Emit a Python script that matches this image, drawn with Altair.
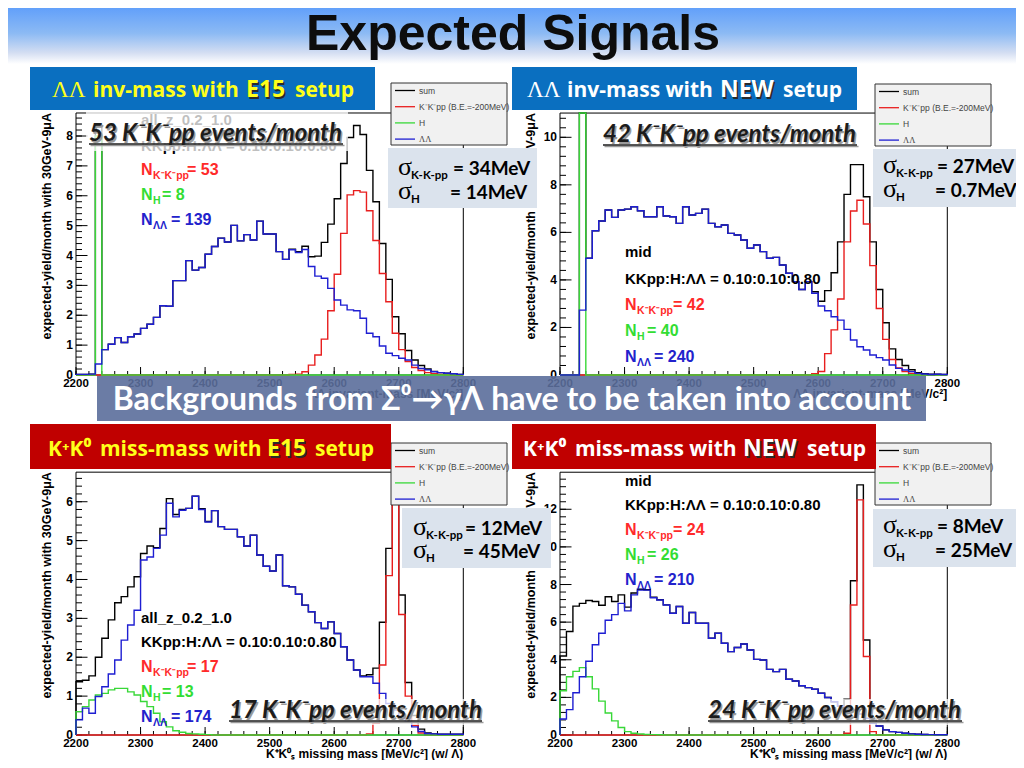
import altair as alt
import pandas as pd

OX, OY = 8, 8          # page margin
W, H = 1008, 752       # drawing area

ROOT_FONT = "Liberation Sans, Arial, sans-serif"
HEAD_FONT = "Open Sans, sans-serif"
LABEL_FONT = "Lato, sans-serif"
SERIF = "Liberation Serif, DejaVu Serif, serif"

C_SUM, C_KK, C_H, C_LL = "#000000", "#e81e1e", "#38d838", "#1e1ed2"
T_KK, T_H, T_LL = "#ff2a2a", "#33dd33", "#2222cc"

# ---------------- data (10 MeV bins, 2200 ... 2790) ----------------
X_FIRST, X_LAST, BIN_WIDTH = 2200, 2800, 10
X_MAJOR = [2200, 2300, 2400, 2500, 2600, 2700, 2800]
X_MINOR = [2200, 2220, 2240, 2260, 2280, 2300, 2320, 2340, 2360, 2380, 2400,
           2420, 2440, 2460, 2480, 2500, 2520, 2540, 2560, 2580, 2600, 2620,
           2640, 2660, 2680, 2700, 2720, 2740, 2760, 2780, 2800]

# panel 1 : LL inv-mass, E15
P1_SUM = [0.02, 0.02, 0.03, 8.37, 0.85, 1.03, 1.25, 1.09, 1.28, 1.37,
          1.56, 1.70, 1.93, 2.32, 2.30, 3.16, 3.16, 3.83, 3.51, 3.60,
          4.04, 4.30, 4.58, 4.45, 5.01, 4.49, 4.70, 4.52, 5.15, 4.72,
          4.72, 4.13, 3.87, 4.21, 4.13, 4.31, 3.96, 3.98, 4.44, 5.05,
          5.90, 7.08, 7.95, 8.35, 8.05, 6.85, 5.80, 4.40, 3.20, 1.95,
          1.38, 0.82, 0.50, 0.32, 0.20, 0.12, 0.08, 0.06, 0.04, 0.02]
P1_KK = [0, 0, 0, 0, 0, 0, 0, 0, 0, 0,
         0, 0, 0, 0, 0, 0, 0, 0, 0, 0,
         0, 0, 0, 0, 0, 0, 0, 0, 0, 0,
         0, 0, 0, 0.02, 0.03, 0.11, 0.33, 0.67, 1.20, 2.15,
         3.37, 4.74, 6.03, 6.17, 6.12, 5.50, 4.50, 3.40, 2.45, 1.40,
         0.85, 0.45, 0.25, 0.15, 0.08, 0.04, 0.02, 0.01, 0, 0]
P1_H = [0, 0, 0, 8.0, 0, 0, 0, 0, 0, 0,
        0, 0, 0, 0, 0, 0, 0, 0, 0, 0,
        0, 0, 0, 0, 0, 0, 0, 0, 0, 0,
        0, 0, 0, 0, 0, 0, 0, 0, 0, 0,
        0, 0, 0, 0, 0, 0, 0, 0, 0, 0,
        0, 0, 0, 0, 0, 0, 0, 0, 0, 0]
P1_LL = [0.02, 0.02, 0.03, 0.37, 0.85, 1.03, 1.25, 1.09, 1.28, 1.37,
         1.56, 1.70, 1.93, 2.32, 2.30, 3.16, 3.16, 3.83, 3.51, 3.60,
         4.04, 4.30, 4.58, 4.45, 5.01, 4.49, 4.70, 4.52, 5.15, 4.72,
         4.72, 4.13, 3.87, 4.19, 4.10, 4.20, 3.63, 3.31, 3.24, 2.90,
         2.51, 2.34, 2.18, 2.15, 1.90, 1.40, 1.28, 0.97, 0.73, 0.65,
         0.56, 0.50, 0.33, 0.22, 0.17, 0.11, 0.08, 0.06, 0.04, 0.02]

# panel 2 : LL inv-mass, NEW
P2_SUM = [0, 0, 0, 42.7, 4.91, 6.07, 6.48, 6.94, 6.63, 6.94,
          6.98, 7.08, 6.91, 6.66, 6.66, 7.08, 6.69, 6.66, 6.38, 7.08,
          6.73, 6.80, 6.98, 6.38, 6.24, 6.31, 5.96, 5.89, 5.68, 5.33,
          5.47, 5.19, 4.91, 4.95, 4.63, 4.28, 3.93, 3.60, 3.93, 3.50,
          3.10, 3.55, 4.30, 5.60, 7.60, 8.85, 8.85, 7.50, 5.60, 3.60,
          2.20, 1.10, 0.65, 0.40, 0.22, 0.10, 0.05, 0.03, 0.03, 0.02]
P2_KK = [0, 0, 0, 0, 0, 0, 0, 0, 0, 0,
         0, 0, 0, 0, 0, 0, 0, 0, 0, 0,
         0, 0, 0, 0, 0, 0, 0, 0, 0, 0,
         0, 0, 0, 0, 0, 0, 0, 0, 0, 0.05,
         0.15, 0.90, 1.90, 3.20, 5.60, 6.90, 7.35, 6.35, 4.60, 2.80,
         1.50, 0.65, 0.30, 0.14, 0.07, 0.03, 0, 0, 0, 0]
P2_H = [0, 0, 0, 40.0, 0, 0, 0, 0, 0, 0,
        0, 0, 0, 0, 0, 0, 0, 0, 0, 0,
        0, 0, 0, 0, 0, 0, 0, 0, 0, 0,
        0, 0, 0, 0, 0, 0, 0, 0, 0, 0,
        0, 0, 0, 0, 0, 0, 0, 0, 0, 0,
        0, 0, 0, 0, 0, 0, 0, 0, 0, 0]
P2_LL = [0, 0, 0, 2.73, 4.91, 6.07, 6.48, 6.94, 6.63, 6.94,
         6.98, 7.08, 6.91, 6.66, 6.66, 7.08, 6.69, 6.66, 6.38, 7.08,
         6.73, 6.80, 6.98, 6.38, 6.24, 6.31, 5.96, 5.89, 5.68, 5.33,
         5.47, 5.19, 4.91, 4.95, 4.63, 4.28, 3.93, 3.60, 3.93, 3.44,
         2.90, 2.70, 2.45, 2.31, 1.92, 1.47, 1.19, 1.05, 0.84, 0.73,
         0.63, 0.42, 0.28, 0.21, 0.14, 0.07, 0.04, 0.02, 0.03, 0.02]

# panel 3 : K+K0 missing mass, E15
P3_SUM = [1.37, 1.41, 1.52, 2.00, 2.49, 2.96, 3.40, 3.56, 3.81, 4.07,
          4.67, 4.86, 4.82, 5.31, 6.08, 5.67, 5.80, 5.83, 6.14, 5.82,
          5.49, 5.77, 5.36, 5.29, 5.29, 5.10, 4.86, 5.14, 4.63, 4.34,
          4.22, 4.63, 3.84, 3.81, 3.62, 3.34, 3.17, 2.89, 2.74, 2.91,
          2.61, 2.27, 1.93, 1.67, 1.52, 1.55, 1.72, 2.90, 4.80, 7.20,
          3.60, 1.35, 0.50, 0.15, 0.05, 0.03, 0.02, 0.02, 0.02, 0.02]
P3_KK = [0, 0, 0, 0, 0, 0, 0, 0, 0, 0,
         0, 0, 0, 0, 0, 0, 0, 0, 0, 0,
         0, 0, 0, 0, 0, 0, 0, 0, 0, 0,
         0, 0, 0, 0, 0, 0, 0, 0, 0, 0,
         0, 0, 0, 0, 0, 0.03, 0.30, 1.80, 4.10, 6.60,
         3.10, 1.00, 0.25, 0.05, 0, 0, 0, 0, 0, 0]
P3_H = [0.60, 0.73, 0.90, 1.03, 1.07, 1.16, 1.20, 1.20, 1.11, 1.03,
        0.86, 0.73, 0.56, 0.34, 0.21, 0.11, 0.07, 0.04, 0.03, 0.02,
        0.01, 0, 0, 0, 0, 0, 0, 0, 0, 0,
        0, 0, 0, 0, 0, 0, 0, 0, 0, 0,
        0, 0, 0, 0, 0, 0, 0, 0, 0, 0,
        0, 0, 0, 0, 0, 0, 0, 0, 0, 0]
P3_LL = [0.39, 0.69, 0.56, 0.99, 1.24, 1.57, 1.93, 2.44, 2.83, 3.21,
         4.50, 4.58, 4.80, 5.14, 5.96, 5.61, 5.78, 5.83, 6.14, 5.80,
         5.48, 5.77, 5.36, 5.29, 5.29, 5.10, 4.86, 5.14, 4.63, 4.34,
         4.22, 4.63, 3.84, 3.81, 3.62, 3.34, 3.17, 2.89, 2.74, 2.91,
         2.61, 2.27, 1.93, 1.67, 1.50, 1.50, 1.33, 1.07, 0.81, 0.64,
         0.47, 0.34, 0.21, 0.09, 0.04, 0.03, 0.02, 0.02, 0.02, 0.02]

# panel 4 : K+K0 missing mass, NEW
P4_SUM = [4.20, 5.50, 6.85, 7.00, 7.15, 7.10, 6.90, 7.35, 7.10, 7.45,
          6.80, 7.55, 7.75, 7.72, 7.32, 7.19, 6.92, 6.47, 6.83, 5.94,
          6.51, 5.94, 5.94, 5.14, 5.41, 4.88, 4.43, 4.65, 4.84, 4.52,
          4.02, 3.99, 3.49, 3.37, 3.49, 2.96, 2.87, 2.62, 2.52, 2.43,
          2.22, 1.99, 1.77, 1.54, 1.90, 8.20, 13.30, 5.05, 0.80, 0.48,
          0.27, 0.18, 0.14, 0.09, 0.06, 0.04, 0.03, 0.02, 0.01, 0.01]
P4_KK = [0, 0, 0, 0, 0, 0, 0, 0, 0, 0,
         0, 0, 0, 0, 0, 0, 0, 0, 0, 0,
         0, 0, 0, 0, 0, 0, 0, 0, 0, 0,
         0, 0, 0, 0, 0, 0, 0, 0, 0, 0,
         0, 0, 0, 0, 0.09, 6.91, 12.50, 4.17, 0.18, 0,
         0, 0, 0, 0, 0, 0, 0, 0, 0, 0]
P4_H = [2.35, 3.10, 3.38, 3.58, 3.10, 2.45, 1.80, 1.17, 0.75, 0.40,
        0.18, 0.09, 0.05, 0.03, 0.02, 0.01, 0, 0, 0, 0,
        0, 0, 0, 0, 0, 0, 0, 0, 0, 0,
        0, 0, 0, 0, 0, 0, 0, 0, 0, 0,
        0, 0, 0, 0, 0, 0, 0, 0, 0, 0,
        0, 0, 0, 0, 0, 0, 0, 0, 0, 0]
P4_LL = [0.85, 1.35, 2.25, 3.10, 3.92, 4.80, 5.41, 6.10, 6.40, 7.00,
         6.60, 7.45, 7.70, 7.70, 7.30, 7.18, 6.91, 6.47, 6.83, 5.94,
         6.51, 5.94, 5.94, 5.14, 5.41, 4.88, 4.43, 4.65, 4.84, 4.52,
         4.02, 3.99, 3.49, 3.37, 3.49, 2.96, 2.87, 2.62, 2.52, 2.43,
         2.22, 1.99, 1.77, 1.54, 1.37, 1.33, 1.12, 0.89, 0.62, 0.48,
         0.27, 0.18, 0.14, 0.09, 0.06, 0.04, 0.03, 0.02, 0.01, 0.01]

Y_MAJOR_1 = [0, 1, 2, 3, 4, 5, 6, 7, 8]
Y_MAJOR_2 = [0, 2, 4, 6, 8, 10]
Y_MAJOR_3 = [0, 1, 2, 3, 4, 5, 6]
Y_MAJOR_4 = [0, 2, 4, 6, 8, 10, 12]

Y_TITLE = "expected-yield/month with 30GeV-9\u03bcA"
X_TITLE_LL = "\u039b\u039b invariant-mass [MeV/c\u00b2]"
X_TITLE_KK = "K\u207aK\u2070\u209b missing mass [MeV/c\u00b2] (w/ \u039b)"

PANELS = [
    dict(x0=76, x1=463.3, y0=375, ppu=29.875, ymax=8.77, ymajor=Y_MAJOR_1, minor=0.2,
         xtitle=X_TITLE_LL, series=(P1_SUM, P1_KK, P1_H, P1_LL)),
    dict(x0=560, x1=947.3, y0=375, ppu=23.77, ymax=11.02, ymajor=Y_MAJOR_2, minor=0.4,
         xtitle=X_TITLE_LL, series=(P2_SUM, P2_KK, P2_H, P2_LL)),
    dict(x0=76, x1=463.3, y0=735, ppu=38.88, ymax=6.76, ymajor=Y_MAJOR_3, minor=0.2,
         xtitle=X_TITLE_KK, series=(P3_SUM, P3_KK, P3_H, P3_LL)),
    dict(x0=560, x1=947.3, y0=735, ppu=18.81, ymax=13.97, ymajor=Y_MAJOR_4, minor=0.4,
         xtitle=X_TITLE_KK, series=(P4_SUM, P4_KK, P4_H, P4_LL)),
]


# ---------------- helpers ----------------
def T(s, x, y, size, color="#000000", font=ROOT_FONT, weight="bold", style="normal",
      align="left", baseline="alphabetic", opacity=1.0, angle=0):
    return alt.Chart(pd.DataFrame({"t": [s]})).mark_text(
        align=align, baseline=baseline, font=font, fontSize=size, fontWeight=weight,
        fontStyle=style, color=color, opacity=opacity, angle=angle).encode(
        x=alt.value(x - OX), y=alt.value(y - OY), text="t:N")


def R(x1, y1, x2, y2, fill, stroke="", opacity=1.0, sw=1.0):
    kw = dict(fill=fill, opacity=opacity)
    if stroke:
        kw.update(stroke=stroke, strokeWidth=sw)
    return alt.Chart(pd.DataFrame({"a": [0]})).mark_rect(**kw).encode(
        x=alt.value(x1 - OX), x2=alt.value(x2 - OX), y=alt.value(y1 - OY), y2=alt.value(y2 - OY))


def L(x1, y1, x2, y2, color, sw=1.0):
    return alt.Chart(pd.DataFrame({"a": [0]})).mark_rule(color=color, strokeWidth=sw).encode(
        x=alt.value(x1 - OX), x2=alt.value(x2 - OX), y=alt.value(y1 - OY), y2=alt.value(y2 - OY))


def hist_df(vals):
    xs = [X_FIRST] + [X_FIRST + BIN_WIDTH * i for i in range(len(vals))] + [X_LAST, X_LAST]
    ys = [0] + list(vals) + [vals[-1], 0]
    return pd.DataFrame({"m": xs, "v": ys, "i": list(range(len(xs)))})


def panel(cfg):
    x0, x1, y0, ppu, ymax = cfg["x0"], cfg["x1"], cfg["y0"], cfg["ppu"], cfg["ymax"]
    ytop = y0 - ymax * ppu
    xs = alt.Scale(domain=[X_FIRST, X_LAST], range=[x0 - OX, x1 - OX], nice=False, zero=False)
    ys = alt.Scale(domain=[0, ymax], range=[y0 - OY, ytop - OY], nice=False, zero=False, clamp=True)

    def X(f):
        return alt.X(f, scale=xs, axis=None)

    def Y(f):
        return alt.Y(f, scale=ys, axis=None)

    frame_df = pd.DataFrame({"a": [X_FIRST], "b": [X_LAST], "c": [0], "d": [ymax]})
    frame = alt.Chart(frame_df).mark_rect(fill="#ffffff", fillOpacity=0, stroke="#000000",
                                          strokeWidth=1).encode(
        x=X("a:Q"), x2="b:Q", y=Y("c:Q"), y2="d:Q")

    ppx = (x1 - x0) / (X_LAST - X_FIRST)
    xt = pd.DataFrame({"m": X_MAJOR + X_MINOR,
                       "v0": [0] * (len(X_MAJOR) + len(X_MINOR)),
                       "v1": [8 / ppu] * len(X_MAJOR) + [4 / ppu] * len(X_MINOR)})
    nminor = int(round(ymax / cfg["minor"] - 0.49)) + 1
    yminor = [round(cfg["minor"] * k, 3) for k in range(nminor)]
    yt = pd.DataFrame({"v": cfg["ymajor"] + yminor,
                       "m0": [X_FIRST] * (len(cfg["ymajor"]) + len(yminor)),
                       "m1": [X_FIRST + 11.5 / ppx] * len(cfg["ymajor"]) +
                             [X_FIRST + 6 / ppx] * len(yminor)})
    xticks = alt.Chart(xt).mark_rule(color="#000000", strokeWidth=1).encode(
        x=X("m:Q"), y=Y("v0:Q"), y2="v1:Q")
    yticks = alt.Chart(yt).mark_rule(color="#000000", strokeWidth=1).encode(
        y=Y("v:Q"), x=X("m0:Q"), x2="m1:Q")

    # tick labels through the scales
    xl = pd.DataFrame({"m": X_MAJOR, "v": [0] * len(X_MAJOR), "t": [str(v) for v in X_MAJOR]})
    yl = pd.DataFrame({"v": cfg["ymajor"], "m": [X_FIRST] * len(cfg["ymajor"]),
                       "t": [str(v) for v in cfg["ymajor"]]})
    xlab = alt.Chart(xl).mark_text(baseline="top", dy=3, font=ROOT_FONT, fontSize=11.5,
                                   fontWeight="bold", color="#000000").encode(
        x=X("m:Q"), y=Y("v:Q"), text="t:N")
    ylab = alt.Chart(yl).mark_text(align="right", baseline="middle", dx=-3, font=ROOT_FONT,
                                   fontSize=12, fontWeight="bold", color="#000000").encode(
        x=X("m:Q"), y=Y("v:Q"), text="t:N")

    xtitle = T(cfg["xtitle"], x1, y0 + 23, 12, align="right")
    ytitle = T(Y_TITLE, x0 - 29, ytop, 12.5, align="right", baseline="middle", angle=270)

    lines = []
    for vals, col in zip(cfg["series"], [C_SUM, C_KK, C_H, C_LL]):
        lines.append(alt.Chart(hist_df(vals)).mark_line(
            interpolate="step-after", color=col, strokeWidth=1.4).encode(
            x=X("m:Q"), y=Y("v:Q"), order="i:Q"))
    return alt.layer(frame, xticks, yticks, xlab, ylab, xtitle, ytitle, *lines)


def n_text(x, y, sub, rest, color, rest_dx, sub_font=ROOT_FONT):
    return [T("N", x, y, 16, color), T(sub, x + 12, y + 4, 10.5, color, font=sub_font),
            T(rest, x + rest_dx, y, 16, color)]


def legend(x, y):
    out = [R(x, y, x + 116, y + 62, "#f1f1f1", stroke="#333333", sw=1)]
    rows = [("sum", C_SUM, ROOT_FONT), ("K\u207bK\u207bpp (B.E.=-200MeV)", C_KK, ROOT_FONT),
            ("H", C_H, ROOT_FONT), ("\u039b\u039b", C_LL, SERIF)]
    for k, (lab, col, f) in enumerate(rows):
        yy = y + 7.5 + 16.2 * k
        out.append(L(x + 4, yy, x + 24, yy, col, 1.3))
        out.append(T(lab, x + 28, yy, 8.5, "#444444", font=f, weight="normal", baseline="middle"))
    return out


def sigma_box(x1, y1, x2, y2, sx, r1, r2, v1, v2, v1x, v2x):
    out = [R(x1, y1, x2, y2, "#dbe3ed")]
    out += [T("\u03c3", sx, r1, 26, font=SERIF, weight="normal"),
            T("K-K-pp", sx + 13, r1 + 4, 11.5, font=LABEL_FONT),
            T(v1, v1x, r1, 19, font=LABEL_FONT),
            T("\u03c3", sx, r2, 26, font=SERIF, weight="normal"),
            T("H", sx + 13, r2 + 4, 11.5, font=LABEL_FONT),
            T(v2, v2x, r2, 19, font=LABEL_FONT)]
    return out


def event_label(s, x, y, x_end, box=None):
    out = []
    if box:
        out.append(R(box[0], box[1], box[2], box[3], "#ffffff", opacity=0.75))
    out += [T(s, x + 1.5, y + 1.5, 24, "#9a9a9a", font=LABEL_FONT, style="italic"),
            L(x + 1.5, y + 4.5, x_end + 1.5, y + 4.5, "#9a9a9a", 1.6),
            T(s, x, y, 24, "#1c1c1c", font=LABEL_FONT, style="italic"),
            L(x, y + 3, x_end, y + 3, "#1c1c1c", 1.6)]
    return out


def header(x1, y1, x2, y2, fill, color, pieces, base):
    out = [R(x1, y1, x2, y2, fill)]
    for txt, px, kind in pieces:
        if kind == "serif":
            out.append(T(txt, px, base, 23, color, font=SERIF, weight="normal"))
        elif kind == "big":
            out.append(T(txt, px + 1.5, base + 1.5, 23, "#2a2a2a", font=HEAD_FONT))
            out.append(T(txt, px, base, 23, color, font=HEAD_FONT))
        else:
            out.append(T(txt, px, base, 21, color, font=HEAD_FONT))
    return out


# ---------------- assemble ----------------
layers = []

band = alt.Chart(pd.DataFrame({"a": [0]})).mark_rect(
    fill=alt.Gradient(gradient="linear",
                      stops=[alt.GradientStop(offset=0, color="#62a0fa"),
                             alt.GradientStop(offset=0.45, color="#8cbaf4"),
                             alt.GradientStop(offset=0.8, color="#d4def2"),
                             alt.GradientStop(offset=1, color="#ffffff")],
                      x1=0, x2=0, y1=0, y2=1)).encode(
    x=alt.value(0), x2=alt.value(W), y=alt.value(0), y2=alt.value(56))
layers.append(band)
layers.append(T("Expected Signals", 513, 50, 50, "#0d0d0d", align="center"))

for cfg in PANELS:
    layers.append(panel(cfg))

# ROOT texts inside pads
KKPP_SUB = "K\u207bK\u207bpp"
LL_SUB = "\u039b\u039b"
RATIO = "KKpp:H:\u039b\u039b = 0.10:0.10:0.80"
layers += [T("all_z_0.2_1.0", 141, 125, 15), T(RATIO, 141, 151, 15)]
layers += n_text(141, 175, KKPP_SUB, "= 53", T_KK, 46)
layers += n_text(141, 200, "H", "= 8", T_H, 21)
layers += n_text(141, 225, LL_SUB, "= 139", T_LL, 30)

layers += [T("mid", 625, 257, 15), T(RATIO, 625, 284, 15)]
layers += n_text(625, 310, KKPP_SUB, "= 42", T_KK, 48)
layers += n_text(625, 336, "H", "= 40", T_H, 22)
layers += n_text(625, 362, LL_SUB, "= 240", T_LL, 29)

layers += [T("all_z_0.2_1.0", 141, 623, 15), T(RATIO, 141, 647, 15)]
layers += n_text(141, 672, KKPP_SUB, "= 17", T_KK, 46)
layers += n_text(141, 697, "H", "= 13", T_H, 21)
layers += n_text(141, 722, LL_SUB, "= 174", T_LL, 30)

layers += [T("mid", 625, 486, 15), T(RATIO, 625, 510, 15)]
layers += n_text(625, 535, KKPP_SUB, "= 24", T_KK, 48)
layers += n_text(625, 560, "H", "= 26", T_H, 22)
layers += n_text(625, 585, LL_SUB, "= 210", T_LL, 29)

# ROOT legends
layers += legend(391, 83) + legend(875, 84) + legend(391, 443) + legend(875, 443)

# slide overlays
YEL, WHT = "#ffff1a", "#ffffff"
BLUE_H, RED_H = "#0a6fc0", "#c00000"
layers += header(30, 67, 375, 110, BLUE_H, YEL,
                 [("\u039b\u039b", 52, "serif"), ("inv-mass with", 93, "n"),
                  ("E15", 246, "big"), ("setup", 295, "n")], 97)
layers += header(512, 67, 857, 110, BLUE_H, WHT,
                 [("\u039b\u039b", 527, "serif"), ("inv-mass with", 567, "n"),
                  ("NEW", 720, "big"), ("setup", 783, "n")], 97)
layers += header(30, 424, 391, 469, RED_H, YEL,
                 [("K\u207aK\u2070", 48, "n"), ("miss-mass with", 100, "n"),
                  ("E15", 267, "big"), ("setup", 315, "n")], 456)
layers += header(512, 424, 876, 469, RED_H, WHT,
                 [("K\u207aK\u2070", 523, "n"), ("miss-mass with", 575, "n"),
                  ("NEW", 743, "big"), ("setup", 807, "n")], 456)

layers += sigma_box(388, 148, 537, 208, 398, 175, 199, "= 34MeV", "= 14MeV", 453, 450)
layers += sigma_box(873, 149, 1022, 207, 883, 173, 197, "= 27MeV", "= 0.7MeV", 937, 935)
layers += sigma_box(402, 508, 551, 568, 413, 535, 558, "= 12MeV", "= 45MeV", 465, 463)
layers += sigma_box(873, 509, 1020, 567, 883, 533, 557, "= 8MeV", "= 25MeV", 937, 935)

layers += event_label("53 K\u207bK\u207bpp events/month", 89, 141, 343, box=(86, 111, 348, 151))
layers += event_label("42 K\u207bK\u207bpp events/month", 603, 142, 857)
layers += event_label("17 K\u207bK\u207bpp events/month", 229, 718, 482, box=(226, 699, 486, 725))
layers += event_label("24 K\u207bK\u207bpp events/month", 708, 718, 962, box=(705, 699, 966, 725))

layers.append(R(97, 376, 926, 421, "#5b6e9b", opacity=0.9))
layers.append(T("Backgrounds from \u03a3\u2070\u2192\u03b3\u039b  have to be taken into account",
                512, 410, 32, WHT, font=LABEL_FONT, align="center"))

chart = alt.layer(*layers).resolve_scale(
    x="independent", y="independent").properties(
    width=W, height=H, autosize=alt.AutoSizeParams(type="none"), padding=0
).configure_view(strokeWidth=0)

chart.save("out.html", embed_options={"renderer": "svg", "actions": False})
